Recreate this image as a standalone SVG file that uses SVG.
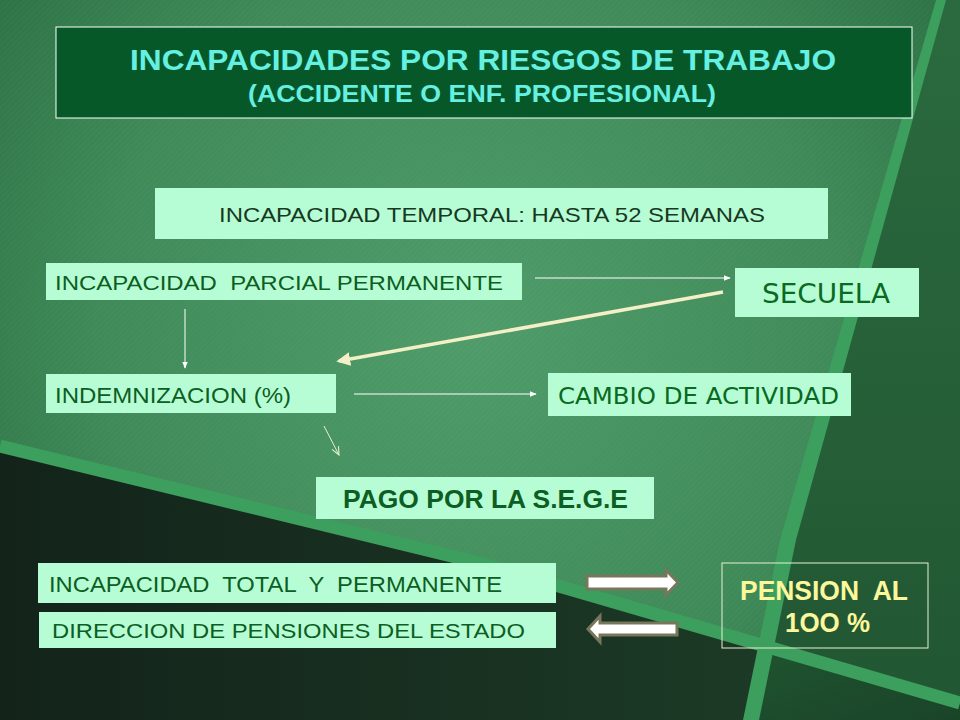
<svg xmlns="http://www.w3.org/2000/svg" width="960" height="720" viewBox="0 0 960 720">
<defs>
<radialGradient id="gMain" cx="470" cy="330" r="620" gradientUnits="userSpaceOnUse">
<stop offset="0" stop-color="#4f9c6a"/>
<stop offset="0.6" stop-color="#3f8a58"/>
<stop offset="1" stop-color="#2a6e42"/>
</radialGradient>
<linearGradient id="gRight" x1="0" y1="0" x2="0" y2="1">
<stop offset="0" stop-color="#2b6a3e"/>
<stop offset="1" stop-color="#215733"/>
</linearGradient>
<linearGradient id="gDark" x1="0" y1="0" x2="1" y2="0">
<stop offset="0" stop-color="#13231a"/>
<stop offset="1" stop-color="#1c3a26"/>
</linearGradient>
<linearGradient id="gBR" x1="0" y1="0" x2="1" y2="1">
<stop offset="0" stop-color="#1f5430"/>
<stop offset="1" stop-color="#1a4428"/>
</linearGradient>
<pattern id="hatch" width="4" height="4" patternUnits="userSpaceOnUse" patternTransform="rotate(45)">
<line x1="0" y1="0" x2="0" y2="4" stroke="#ffffff" stroke-width="1" opacity="0.05"/>
</pattern>
<marker id="ah" viewBox="0 0 10 10" refX="9" refY="5" markerWidth="7" markerHeight="7" orient="auto" markerUnits="userSpaceOnUse">
<path d="M0,1 L10,5 L0,9 z" fill="#ffffff"/>
</marker>
<marker id="ahCream" viewBox="0 0 10 10" refX="8" refY="5" markerWidth="4" markerHeight="4" orient="auto">
<path d="M0,0 L10,5 L0,10 z" fill="#f3efc6"/>
</marker>
<marker id="ahOpen" viewBox="0 0 10 10" refX="9" refY="5" markerWidth="9" markerHeight="9" orient="auto" markerUnits="userSpaceOnUse">
<path d="M0,1 L9,5 L0,9" fill="none" stroke="#e9f0cc" stroke-width="1.2"/>
</marker>
<style>
text{white-space:pre;}
.box{fill:#b6fdd5;}
.t{font-family:"Liberation Sans",Arial,sans-serif;fill:#0d5e22;}
.tah{font-family:"DejaVu Sans",Verdana,sans-serif;fill:#0a6a1f;}
.thin{stroke:#ffffff;stroke-width:1;fill:none;}
.blk{fill:#ffffff;stroke:#77775c;stroke-width:3;stroke-linejoin:miter;}
.stripe{fill:none;stroke:#3c9f5d;stroke-linejoin:round;}
</style>
</defs>

<g id="background">
<rect x="0" y="0" width="960" height="720" fill="url(#gMain)"/>
<rect x="0" y="0" width="960" height="720" fill="url(#hatch)"/>
<polygon points="941,0 960,0 960,703 766,648 788,540" fill="url(#gRight)"/>
<polygon points="0,446 480,563 766,648 751,720 0,720" fill="url(#gDark)"/>
<polygon points="766,648 960,703 960,720 751,720" fill="url(#gBR)"/>
<polyline class="stripe" points="0,446 480,563 960,703" stroke-width="13"/>
<polygon points="936,0 946,0 796,540 759,720 743,720 780,540" fill="#3c9f5d"/>
</g>

<g id="title">
<rect x="56" y="27" width="856" height="91" fill="#075829" stroke="#ffffff" stroke-width="1"/>
<text x="130" y="70" font-family="Liberation Sans, Arial, sans-serif" font-weight="bold" font-size="29" fill="#66f0e2" textLength="706" lengthAdjust="spacingAndGlyphs">INCAPACIDADES POR RIESGOS DE TRABAJO</text>
<text x="248" y="102" font-family="Liberation Sans, Arial, sans-serif" font-weight="bold" font-size="24" fill="#66f0e2" textLength="468" lengthAdjust="spacingAndGlyphs">(ACCIDENTE O ENF. PROFESIONAL)</text>
</g>

<g id="temporal">
<rect class="box" x="155" y="188" width="673" height="51"/>
<text class="t" x="219" y="222" font-size="21" style="fill:#17391f" textLength="546" lengthAdjust="spacingAndGlyphs">INCAPACIDAD TEMPORAL: HASTA 52 SEMANAS</text>
</g>

<g id="parcial">
<rect class="box" x="46" y="263" width="476" height="37"/>
<text class="t" x="55" y="290" font-size="21" textLength="448" lengthAdjust="spacingAndGlyphs">INCAPACIDAD  PARCIAL PERMANENTE</text>
</g>

<g id="secuela">
<rect class="box" x="735" y="268" width="184" height="49"/>
<text class="tah" x="762" y="303" font-size="27" textLength="128" lengthAdjust="spacingAndGlyphs">SECUELA</text>
</g>

<g id="indemnizacion">
<rect class="box" x="46" y="374" width="290" height="39"/>
<text class="t" x="55" y="403" font-size="22" textLength="236" lengthAdjust="spacingAndGlyphs">INDEMNIZACION (%)</text>
</g>

<g id="cambio">
<rect class="box" x="548" y="373" width="303" height="43"/>
<text class="tah" x="558" y="404" font-size="23" textLength="281" lengthAdjust="spacingAndGlyphs">CAMBIO DE ACTIVIDAD</text>
</g>

<g id="pago">
<rect class="box" x="316" y="477" width="338" height="42"/>
<text class="t" x="343" y="508" font-size="25" font-weight="bold" textLength="285" lengthAdjust="spacingAndGlyphs">PAGO POR LA S.E.G.E</text>
</g>

<g id="total">
<rect class="box" x="38" y="563" width="518" height="40"/>
<text class="t" x="49" y="592" font-size="22" textLength="453" lengthAdjust="spacingAndGlyphs">INCAPACIDAD  TOTAL  Y  PERMANENTE</text>
</g>

<g id="direccion">
<rect class="box" x="39" y="612" width="517" height="36"/>
<text class="t" x="52" y="638" font-size="21" textLength="473" lengthAdjust="spacingAndGlyphs">DIRECCION DE PENSIONES DEL ESTADO</text>
</g>

<g id="pension">
<rect x="722" y="563" width="206" height="85" fill="none" stroke="#e6f2cf" stroke-width="1"/>
<text x="740" y="600" font-family="Liberation Sans, Arial, sans-serif" font-weight="bold" font-size="27" fill="#fdf79c" textLength="168" lengthAdjust="spacingAndGlyphs">PENSION  AL</text>
<text x="785" y="632" font-family="Liberation Sans, Arial, sans-serif" font-weight="bold" font-size="27" fill="#fdf79c" textLength="85" lengthAdjust="spacingAndGlyphs">1OO %</text>
</g>

<g id="connectors">
<line class="thin" x1="535" y1="278" x2="730" y2="278" marker-end="url(#ah)"/>
<line class="thin" x1="185" y1="309" x2="185" y2="368" marker-end="url(#ah)"/>
<line x1="723" y1="292" x2="339" y2="361" stroke="#f3efc6" stroke-width="3.5" marker-end="url(#ahCream)"/>
<line class="thin" x1="354" y1="394" x2="536" y2="394" marker-end="url(#ah)"/>
<line x1="324" y1="426" x2="339" y2="455" stroke="#e9f0cc" stroke-width="1" marker-end="url(#ahOpen)"/>
<path class="blk" d="M587,576 L666,576 L666,570 L678,582.5 L666,595 L666,589 L587,589 Z"/>
<path class="blk" d="M677,623 L600,623 L600,616 L588,629 L600,642 L600,635 L677,635 Z"/>
</g>
</svg>
